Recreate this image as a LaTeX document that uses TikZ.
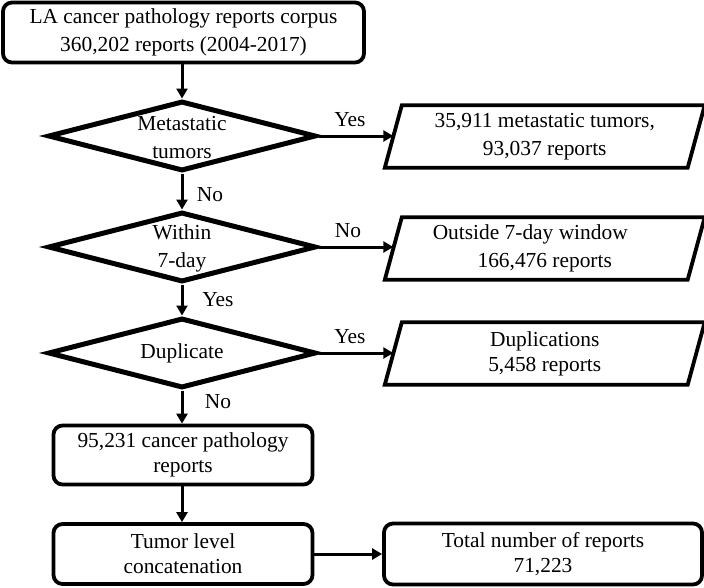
\documentclass[tikz,border=0pt]{standalone}
\usepackage{fontspec}
\setmainfont{Liberation Serif}
\usetikzlibrary{shapes.geometric,arrows.meta}
\begin{document}
\begin{tikzpicture}[x=1pt,y=-1pt,
  every node/.style={font=\fontsize{21.4}{28}\selectfont},
  tight/.style={font=\fontsize{21.4}{25}\selectfont},
  rbox/.style={draw, line width=3.8pt, rounded corners=9pt, align=center, inner sep=0pt},
  dia/.style={draw, diamond, line width=5pt, inner sep=0pt, minimum width=268pt, minimum height=70pt},
  dtext/.style={align=center, inner sep=0pt},
  ptext/.style={align=center, inner sep=0pt, minimum width=302.5pt, minimum height=62pt},
  para/.style={line width=3.8pt, line join=miter},
  arr/.style={line width=3pt, -{Triangle[length=10pt,width=11pt]}},
  lab/.style={inner sep=0pt}]
\useasboundingbox (0,0) rectangle (704,587);
% nodes
\node[rbox, minimum width=361pt, minimum height=60pt] (top) at (183.5,32.5) {LA cancer pathology reports corpus\\360,202 reports (2004-2017)};
\node[dia] (d1) at (182,136) {};
\node[dtext] (t1) at (182,137.5) {Metastatic\\tumors};
\node[dia] (d2) at (182,247) {};
\node[dtext] (t2) at (182,248.5) {Within\\7-day};
\node[dia] (d3) at (182,353) {};
\node[dtext] (t3) at (182,353) {Duplicate};
\node[ptext] (p1) at (544.75,136.5) {35,911 metastatic tumors,\\93,037 reports};
\node[ptext] (p2) at (544.75,248.5) {Outside 7-day window\hspace*{29pt}\\166,476 reports};
\node[ptext, tight] (p3) at (544.75,353.5) {Duplications\\5,458 reports};
\node[rbox, tight, minimum width=259pt, minimum height=59pt] (b4) at (183,455) {95,231 cancer pathology\\reports};
\node[rbox, tight, minimum width=259pt, minimum height=60pt] (b5) at (183,554) {Tumor level\\concatenation};
\node[rbox, tight, minimum width=318pt, minimum height=61pt] (b6) at (543,554) {Total number of reports\\71,223};
% parallelograms
\foreach \p in {p1,p2,p3}{
  \draw[para] ([xshift=8.5pt]\p.north west) -- ([xshift=8.5pt]\p.north east) -- ([xshift=-8.5pt]\p.south east) -- ([xshift=-8.5pt]\p.south west) -- cycle;
}
% connectors
\draw[arr] (top.south -| d1.north) -- (d1.north);
\draw[arr] (d1.east) -- (p1.west |- d1.east);
\draw[arr] (d1.south) -- (d2.north);
\draw[arr] (d2.east) -- (p2.west |- d2.east);
\draw[arr] (d2.south) -- (d3.north);
\draw[arr] (d3.east) -- (p3.west |- d3.east);
\draw[arr] (d3.south) -- (d3.south |- b4.north);
\draw[arr] (b4.south -| d3.south) -- (d3.south |- b5.north);
\draw[arr] (b5.east) -- (b6.west);
% labels
\node[lab] (y1) at (350,120) {Yes};
\node[lab] (n1) at (210,195) {No};
\node[lab] (n2) at (348,231) {No};
\node[lab] (y2) at (218,300) {Yes};
\node[lab] (y3) at (350,337) {Yes};
\node[lab] (n3) at (218,402) {No};
\end{tikzpicture}
\end{document}
